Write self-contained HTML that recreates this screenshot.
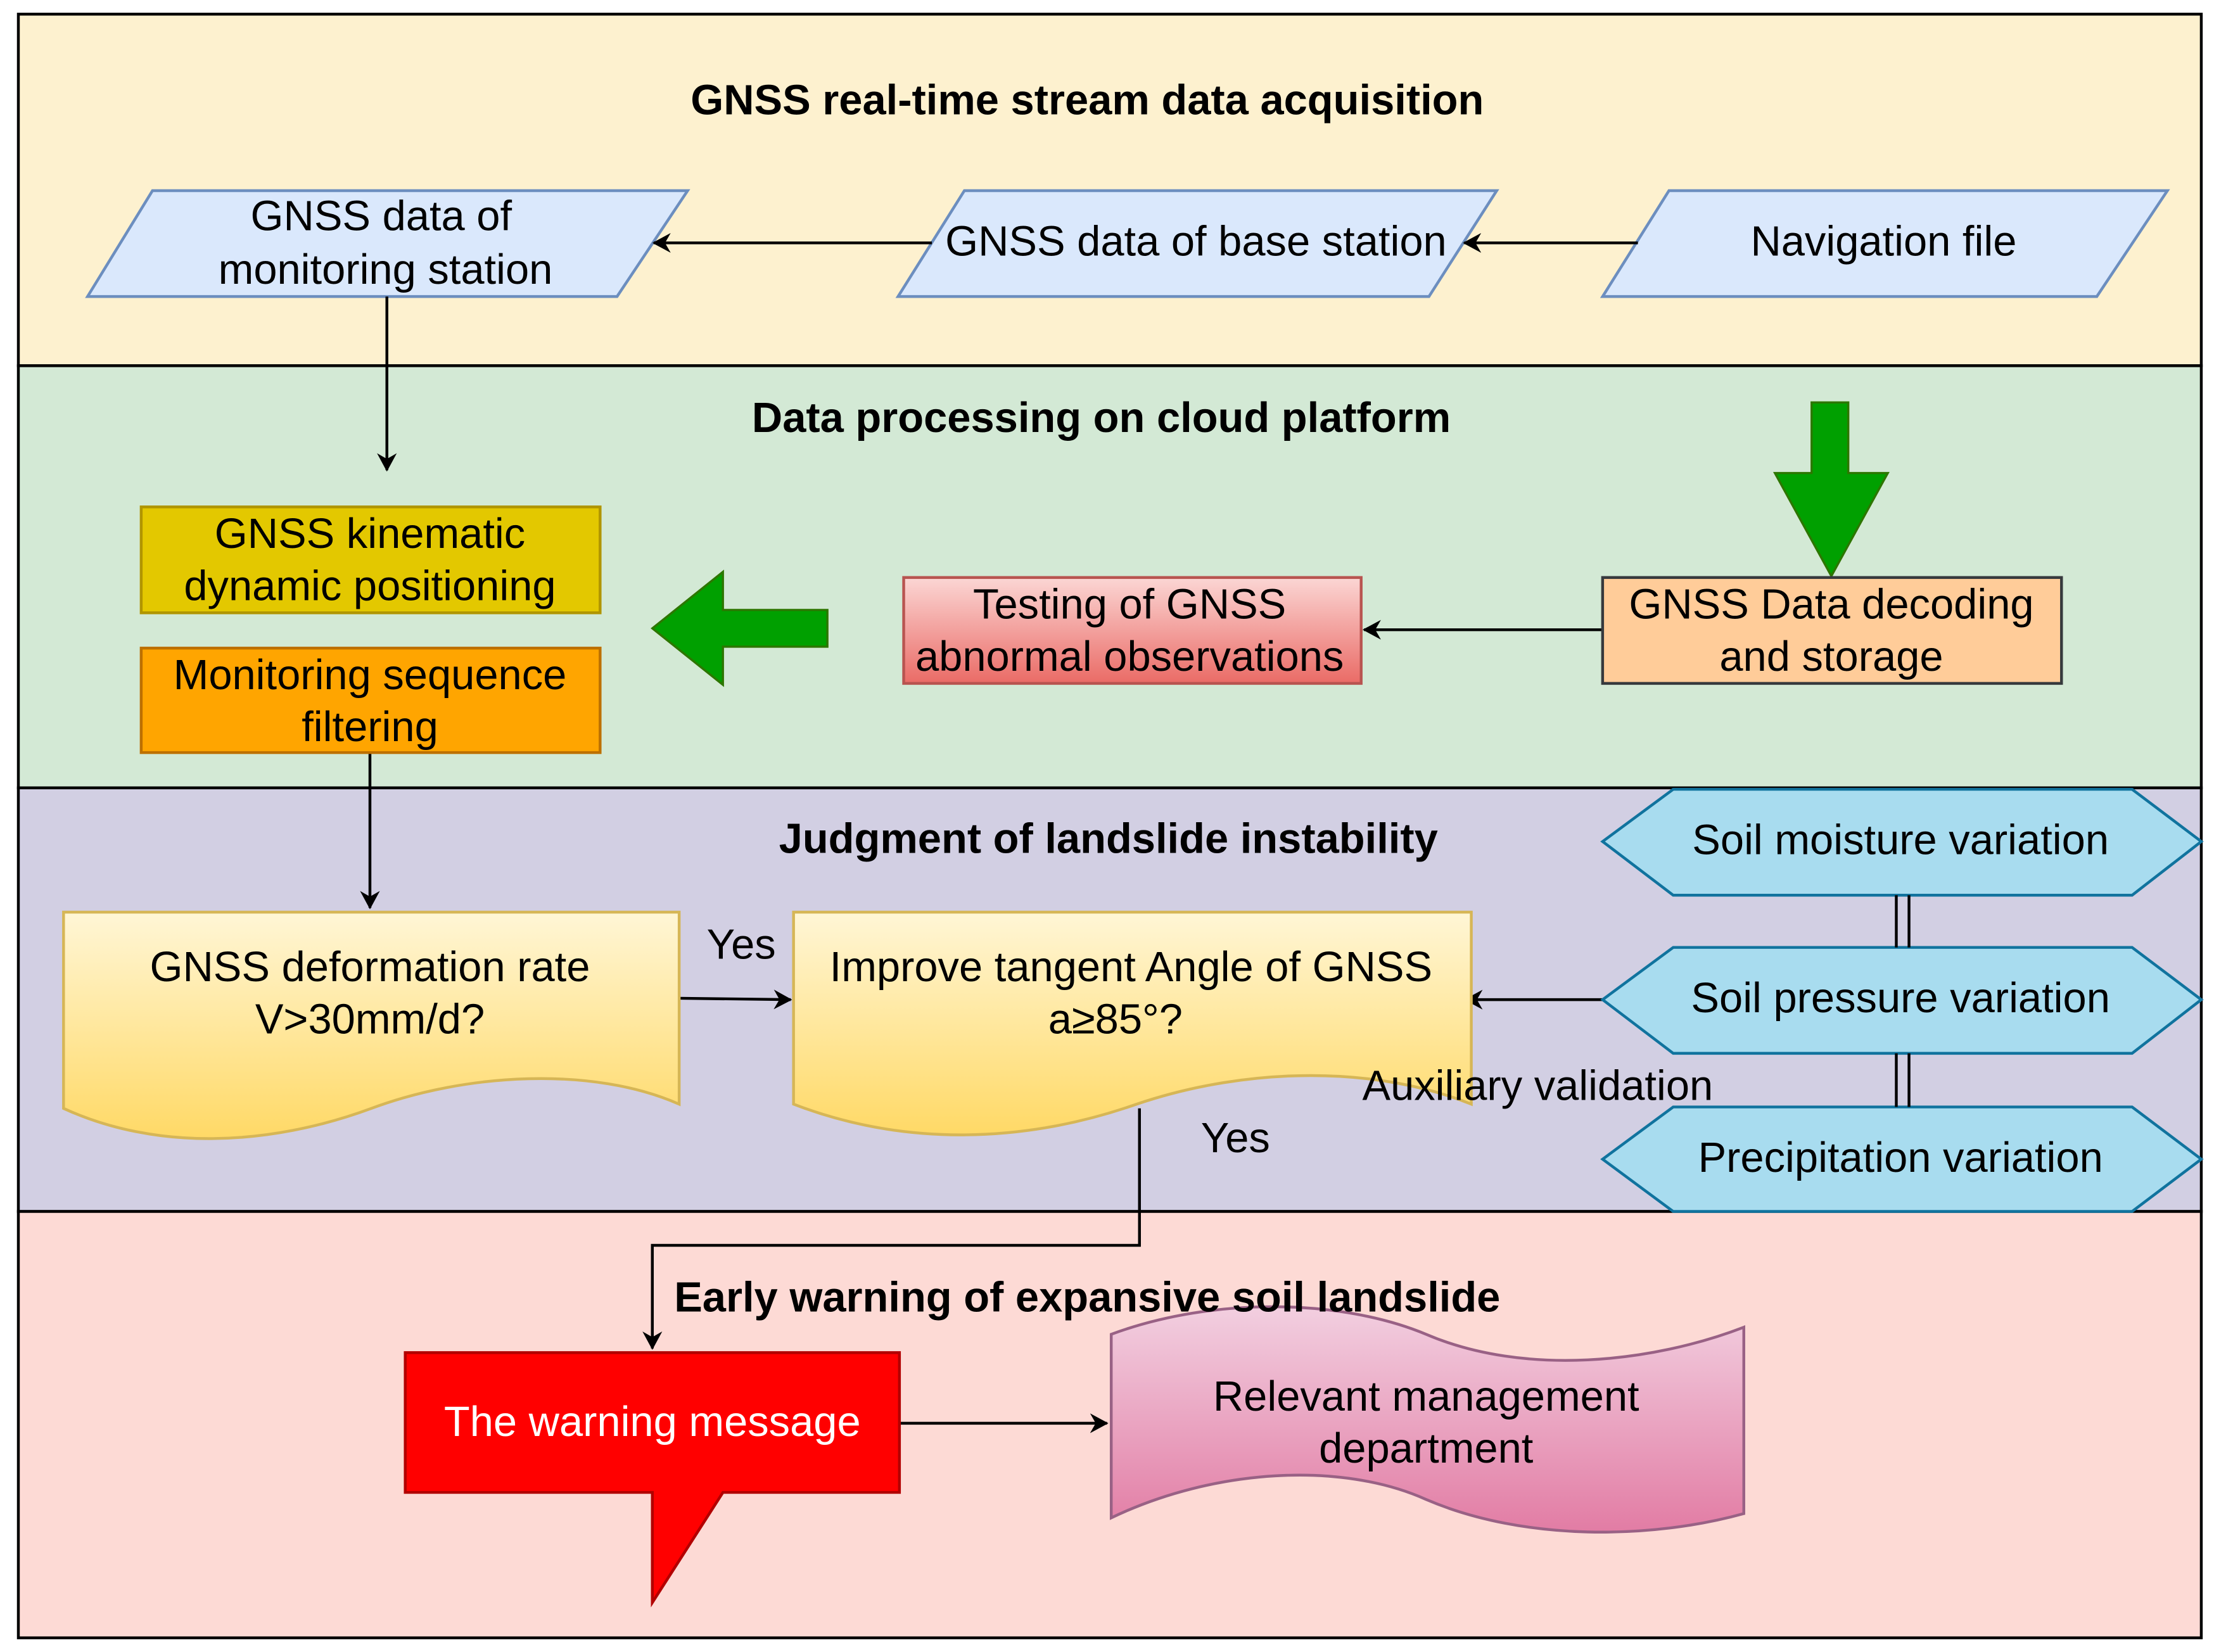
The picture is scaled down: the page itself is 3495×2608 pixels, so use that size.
<!DOCTYPE html>
<html><head><meta charset="utf-8"><style>
html,body{margin:0;padding:0;background:#fff;}
svg{display:block;}
text{font-family:"Liberation Sans",Arial,sans-serif;}
</style></head><body>
<svg width="3495" height="2608" viewBox="0 0 1568 1170" xmlns="http://www.w3.org/2000/svg">
<defs>
<marker id="ah" markerWidth="14" markerHeight="14" refX="12" refY="7" orient="auto" markerUnits="userSpaceOnUse">
<path d="M0,0 L13,7 L0,14 L4,7 Z" fill="#000"/>
</marker>
<linearGradient id="gRed" x1="0" y1="0" x2="0" y2="1"><stop offset="0" stop-color="#fbd6d4"/><stop offset="1" stop-color="#ea6b66"/></linearGradient>
<linearGradient id="gYel" x1="0" y1="0" x2="0" y2="1"><stop offset="0" stop-color="#fff6d6"/><stop offset="1" stop-color="#ffd966"/></linearGradient>
<linearGradient id="gPink" x1="0" y1="0" x2="0" y2="1"><stop offset="0" stop-color="#f2cfe0"/><stop offset="1" stop-color="#e27ca4"/></linearGradient>
</defs>
<rect x="0" y="0" width="1568" height="1170" fill="#fff"/>
<rect x="13" y="10" width="1546" height="249" fill="#fdf1cf" stroke="#000" stroke-width="2"/>
<rect x="13" y="259" width="1546" height="299" fill="#d3e9d5" stroke="#000" stroke-width="2"/>
<rect x="13" y="558" width="1546" height="300" fill="#d2cfe3" stroke="#000" stroke-width="2"/>
<rect x="13" y="858" width="1546" height="302" fill="#fddad5" stroke="#000" stroke-width="2"/>

<g fill="#dae8fc" stroke="#6c8ebf" stroke-width="2">
<polygon points="62,210 108,135 487,135 437,210"/>
<polygon points="636,210 683,135 1060,135 1012,210"/>
<polygon points="1135,210 1182,135 1535,135 1485,210"/>
</g>
<g font-size="30" text-anchor="middle" fill="#000">
<text x="270" y="163">GNSS data of</text>
<text x="273" y="201">monitoring station</text>
<text x="847" y="181">GNSS data of base station</text>
<text x="1334" y="181">Navigation file</text>
</g>
<g stroke="#000" stroke-width="2" fill="none" marker-end="url(#ah)">
<line x1="1160" y1="172" x2="1037" y2="172"/>
<line x1="660" y1="172" x2="463" y2="172"/>
<line x1="274" y1="210" x2="274" y2="333"/>
<line x1="1135" y1="446" x2="966" y2="446"/>
<line x1="262" y1="533" x2="262" y2="643"/>
<line x1="481" y1="707" x2="560" y2="708"/>
<line x1="1135" y1="708" x2="1038" y2="708"/>
<polyline points="807,785 807,882 462,882 462,955"/>
<line x1="637" y1="1008" x2="784" y2="1008"/>
</g>

<rect x="100" y="359" width="325" height="75" fill="#e3c800" stroke="#b09500" stroke-width="2"/>
<rect x="100" y="459" width="325" height="74" fill="#ffa500" stroke="#bd7000" stroke-width="2"/>
<polygon points="462,445 512,405 512,432 586,432 586,458 512,458 512,485" fill="#00a000" stroke="#2d7600" stroke-width="1.5"/>
<polygon points="1283,285 1309,285 1309,335 1337,335 1297,408 1257,335 1283,335" fill="#00a000" stroke="#2d7600" stroke-width="1.5"/>
<rect x="640" y="409" width="324" height="75" fill="url(#gRed)" stroke="#b85450" stroke-width="2"/>
<rect x="1135" y="409" width="325" height="75" fill="#ffcc99" stroke="#36393d" stroke-width="2"/>
<g font-size="30" text-anchor="middle" fill="#000">
<text x="262" y="388">GNSS kinematic</text>
<text x="262" y="425">dynamic positioning</text>
<text x="262" y="488">Monitoring sequence</text>
<text x="262" y="525">filtering</text>
<text x="800" y="438">Testing of GNSS</text>
<text x="800" y="475">abnormal observations</text>
<text x="1297" y="438">GNSS Data decoding</text>
<text x="1297" y="475">and storage</text>
</g>

<path d="M45,646 L481,646 L481,782 C420,755 330,760 263,785 C190,812 110,815 45,785 Z" fill="url(#gYel)" stroke="#d6b656" stroke-width="2"/>
<path d="M562,646 L1042,646 L1042,782 C975,755 885,755 805,782 C725,810 640,812 562,782 Z" fill="url(#gYel)" stroke="#d6b656" stroke-width="2"/>
<g fill="#a8dcef" stroke="#10739e" stroke-width="2">
<polygon points="1135,596 1185,559 1510,559 1559,596 1510,634 1185,634"/>
<polygon points="1135,708 1185,671 1510,671 1559,708 1510,746 1185,746"/>
<polygon points="1135,821 1185,784 1510,784 1559,821 1510,858 1185,858"/>
</g>
<g stroke="#000" stroke-width="2">
<line x1="1343" y1="634" x2="1343" y2="671"/><line x1="1352" y1="634" x2="1352" y2="671"/>
<line x1="1343" y1="746" x2="1343" y2="784"/><line x1="1352" y1="746" x2="1352" y2="784"/>
</g>
<g font-size="30" text-anchor="middle" fill="#000">
<text x="262" y="695">GNSS deformation rate</text>
<text x="262" y="732">V&gt;30mm/d?</text>
<text x="801" y="695">Improve tangent Angle of GNSS</text>
<text x="790" y="732">a≥85°?</text>
<text x="1346" y="605">Soil moisture variation</text>
<text x="1346" y="717">Soil pressure variation</text>
<text x="1346" y="830">Precipitation variation</text>
<text x="525" y="679">Yes</text>
<text x="875" y="816">Yes</text>
<text x="1089" y="779">Auxiliary validation</text>
</g>

<polygon points="287,958 637,958 637,1057 512,1057 462,1135 462,1057 287,1057" fill="#ff0000" stroke="#b20000" stroke-width="2"/>
<text x="462" y="1017" font-size="30" text-anchor="middle" fill="#fff">The warning message</text>
<path d="M787,945 C860,918 950,920 1010,945 C1080,975 1170,965 1235,940 L1235,1072 C1170,1090 1080,1092 1010,1062 C950,1035 860,1040 787,1075 Z" fill="url(#gPink)" stroke="#996185" stroke-width="2"/>
<g font-size="30" text-anchor="middle" fill="#000">
<text x="1010" y="999">Relevant management</text>
<text x="1010" y="1036">department</text>
</g>

<g font-weight="bold" font-size="30" text-anchor="middle" fill="#000">
<text x="770" y="81">GNSS real-time stream data acquisition</text>
<text x="780" y="306">Data processing on cloud platform</text>
<text x="785" y="604">Judgment of landslide instability</text>
<text x="770" y="929">Early warning of expansive soil landslide</text>
</g>
</svg>
</body></html>
